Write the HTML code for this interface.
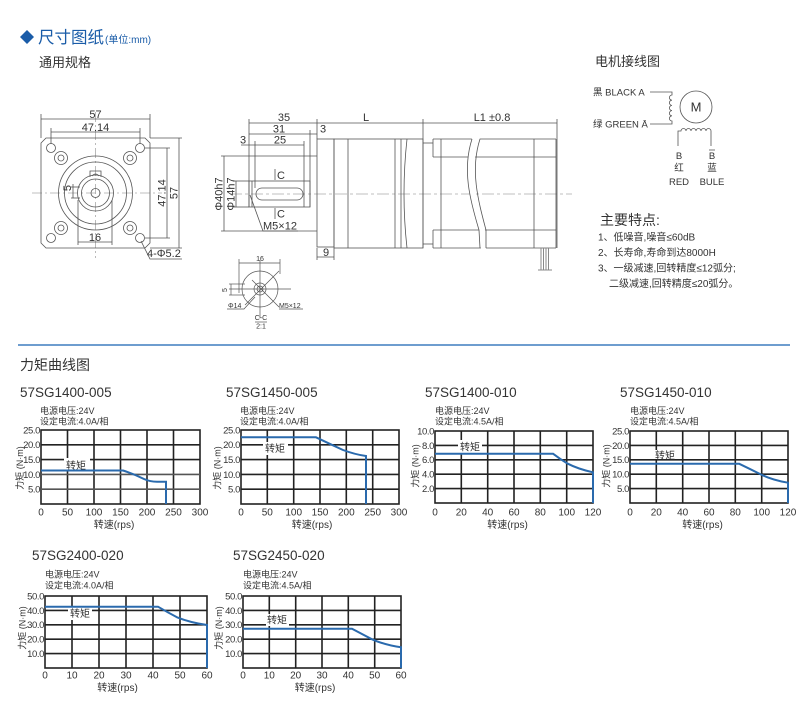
<!DOCTYPE html>
<html><head><meta charset="utf-8"><style>
html,body{margin:0;padding:0;background:#fff;}
svg{display:block;}
text{font-family:"Liberation Sans","Noto Sans CJK SC",sans-serif;fill:#333;}
.d{font-size:11px;fill:#333;}
.s{font-size:7px;fill:#333;}
.t{font-size:13.5px;fill:#333;}
.i{font-size:9px;fill:#333;}
.y{font-size:9.5px;text-anchor:end;fill:#333;letter-spacing:-0.4px;}
.x{font-size:10px;text-anchor:middle;fill:#333;}
.a{font-size:9px;text-anchor:middle;fill:#333;}
.m{text-anchor:middle;}
</style></head><body>
<svg width="800" height="701" viewBox="0 0 800 701" xmlns="http://www.w3.org/2000/svg">
<rect width="800" height="701" fill="#fff"/>

<!-- Header -->
<polygon points="27,30 34,37 27,44 20,37" fill="#1a5ca8"/>
<text x="38" y="43" style="font-size:16.5px;fill:#1a5ca8">尺寸图纸</text>
<text x="105" y="43" style="font-size:10px;fill:#1a5ca8">(单位:mm)</text>
<text x="39" y="67" style="font-size:13px;fill:#333">通用规格</text>

<!-- Front view -->
<g stroke="#aaa" stroke-width="0.8" stroke-dasharray="10,3,2,3" fill="none">
<line x1="32" y1="193" x2="162" y2="193"/>
<line x1="95.5" y1="112" x2="95.5" y2="258"/>
</g>
<g stroke="#555" stroke-width="0.8" fill="none">
<path d="M46,138 L145,138 L150,143 L150,243 L145,248 L46,248 L41,243 L41,143 Z"/>
<circle cx="51" cy="148" r="4.5"/><circle cx="140" cy="148" r="4.5"/>
<circle cx="51" cy="238" r="4.5"/><circle cx="140" cy="238" r="4.5"/>
<circle cx="61" cy="158" r="6.5"/><circle cx="61" cy="158" r="3"/>
<circle cx="130" cy="158" r="6.5"/><circle cx="130" cy="158" r="3"/>
<circle cx="61" cy="228" r="6.5"/><circle cx="61" cy="228" r="3"/>
<circle cx="130" cy="228" r="6.5"/><circle cx="130" cy="228" r="3"/>
<circle cx="95.5" cy="193" r="37"/>
<circle cx="95.5" cy="193" r="31"/>
<circle cx="95.5" cy="193" r="18"/>
<circle cx="95.5" cy="193" r="14"/>
<circle cx="95.5" cy="193" r="4.5"/>
<path d="M90,177 L90,171 L101,171 L101,177"/>
<path d="M92,176 Q95.5,172 99,176"/>
<line x1="41" y1="119" x2="150" y2="119"/>
<line x1="41" y1="114" x2="41" y2="138"/><line x1="150" y1="114" x2="150" y2="138"/>
<line x1="51" y1="132" x2="140" y2="132"/>
<line x1="51" y1="128" x2="51" y2="144"/><line x1="140" y1="128" x2="140" y2="144"/>
<line x1="167" y1="148" x2="167" y2="238"/>
<line x1="145" y1="148" x2="170" y2="148"/><line x1="145" y1="238" x2="170" y2="238"/>
<line x1="179" y1="138" x2="179" y2="248"/>
<line x1="150" y1="138" x2="182" y2="138"/><line x1="150" y1="248" x2="182" y2="248"/>
<line x1="78" y1="200" x2="78" y2="245"/><line x1="112" y1="200" x2="112" y2="245"/>
<line x1="78" y1="242" x2="112" y2="242"/>
<line x1="73" y1="184" x2="73" y2="198"/>
<line x1="71" y1="187" x2="80" y2="187"/><line x1="71" y1="198" x2="80" y2="198"/>
<path d="M141,241 L150,259 L182,259"/>
</g>
<text class="d m" x="95.5" y="118">57</text>
<text class="d m" x="95.5" y="131">47.14</text>
<text class="d m" transform="translate(165.5,193) rotate(-90)">47.14</text>
<text class="d m" transform="translate(177.5,193) rotate(-90)">57</text>
<text class="d m" x="95" y="241">16</text>
<text class="d m" transform="translate(71,188) rotate(-90)">5</text>
<text class="d" x="147" y="257">4-Φ5.2</text>

<!-- Side view -->
<line x1="230" y1="194" x2="572" y2="194" stroke="#aaa" stroke-width="0.8" stroke-dasharray="12,3,3,3"/>
<g stroke="#555" stroke-width="0.8" fill="none">
<line x1="249" y1="123" x2="557" y2="123"/>
<line x1="249" y1="119" x2="249" y2="207"/>
<line x1="317" y1="119" x2="317" y2="139"/>
<line x1="423" y1="119" x2="423" y2="248"/>
<line x1="557" y1="119" x2="557" y2="248"/>
<line x1="249" y1="134" x2="317" y2="134"/>
<line x1="241" y1="145" x2="304" y2="145"/>
<line x1="255" y1="141" x2="255" y2="188"/>
<line x1="304" y1="141" x2="304" y2="207"/>
<line x1="310" y1="130" x2="310" y2="207"/>
<line x1="221" y1="156" x2="317" y2="156"/>
<line x1="221" y1="231" x2="317" y2="231"/>
<line x1="224" y1="156" x2="224" y2="231"/>
<line x1="236" y1="181" x2="236" y2="207"/>
<line x1="233" y1="181" x2="249" y2="181"/>
<line x1="233" y1="207" x2="249" y2="207"/>
<rect x="249" y="181" width="61" height="26"/>
<line x1="252" y1="181" x2="252" y2="207"/>
<rect x="256" y="188" width="47" height="12" rx="6"/>
<line x1="275" y1="169" x2="275" y2="180"/>
<line x1="275" y1="208" x2="275" y2="219"/>
<path d="M250,195 L263,231 L298,231"/>
<rect x="317" y="139" width="17" height="108"/>
<rect x="334" y="139" width="89" height="109"/>
<line x1="348" y1="139" x2="348" y2="248"/>
<line x1="395" y1="139" x2="395" y2="248"/>
<line x1="401" y1="139" x2="401" y2="248"/>
<path d="M407,139 Q401,194 407,248"/>
<line x1="317" y1="248" x2="317" y2="260"/><line x1="334" y1="248" x2="334" y2="260"/>
<line x1="317" y1="257" x2="334" y2="257"/>
<line x1="433" y1="139" x2="556" y2="139"/>
<line x1="433" y1="248" x2="556" y2="248"/>
<line x1="556" y1="139" x2="556" y2="248"/>
<line x1="441" y1="139" x2="441" y2="248"/>
<line x1="534" y1="139" x2="534" y2="248"/>
<line x1="433" y1="139" x2="433" y2="157"/>
<line x1="433" y1="230" x2="433" y2="248"/>
<line x1="433" y1="157" x2="556" y2="157"/>
<line x1="433" y1="230" x2="556" y2="230"/>
<line x1="423" y1="143" x2="433" y2="143"/>
<line x1="423" y1="244" x2="433" y2="244"/>
</g>
<path d="M472,138 C462,170 470,200 479,230 L481,249 L486,249 L485,230 C476,200 468,170 480,138 Z" fill="#fff" stroke="none"/>
<g stroke="#555" stroke-width="0.8" fill="none">
<path d="M472,139 C462,170 470,200 479,230 L480,248"/>
<path d="M480,139 C470,170 478,200 486,230 L486,248"/>
</g>
<g stroke="#888" stroke-width="1">
<line x1="541" y1="248" x2="541" y2="270"/>
<line x1="543.5" y1="248" x2="543.5" y2="270"/>
<line x1="546" y1="248" x2="546" y2="270"/>
<line x1="548.5" y1="248" x2="548.5" y2="270"/>
<line x1="538" y1="270" x2="552" y2="270"/>
</g>
<text class="d m" x="284" y="121">35</text>
<text class="d m" x="366" y="121">L</text>
<text class="d m" x="492" y="121">L1  ±0.8</text>
<text class="d m" x="279" y="132.5">31</text>
<text class="d m" x="323" y="132.5">3</text>
<text class="d m" x="280" y="143.5">25</text>
<text class="d m" x="243" y="143.5">3</text>
<text class="d m" transform="translate(222.5,194) rotate(-90)">Φ40h7</text>
<text class="d m" transform="translate(234.5,194) rotate(-90)">Φ14h7</text>
<text class="d" x="277" y="179">C</text>
<text class="d" x="277" y="217.5">C</text>
<text class="d" x="263" y="229.5">M5×12</text>
<text class="d m" x="326" y="256">9</text>

<!-- C-C section -->
<g stroke="#555" stroke-width="0.7" fill="none">
<line x1="239" y1="263" x2="280" y2="263"/>
<line x1="239" y1="259" x2="239" y2="293"/>
<line x1="280" y1="259" x2="280" y2="274"/>
<circle cx="260" cy="289" r="18"/>
<circle cx="260" cy="289" r="6"/>
<circle cx="260" cy="289" r="3"/>
<line x1="260" y1="260" x2="260" y2="318"/>
<line x1="229" y1="289" x2="291" y2="289"/>
<line x1="279" y1="271" x2="245" y2="305"/>
<line x1="252" y1="280" x2="279" y2="307"/>
<line x1="231" y1="284" x2="231" y2="295"/>
<line x1="229" y1="284" x2="245" y2="284"/>
<line x1="229" y1="295" x2="245" y2="295"/>
<path d="M255,297 L244,309 L227,309"/>
<path d="M279,309 L303,309"/>
<line x1="255" y1="322" x2="267" y2="322"/>
</g>
<text class="s m" x="260" y="261">16</text>
<text class="s m" transform="translate(227,290) rotate(-90)">5</text>
<text class="s" x="228" y="308">Φ14</text>
<text class="s" x="279" y="308">M5×12</text>
<text class="s m" x="261" y="320">C-C</text>
<text class="s m" x="261" y="328.5">2:1</text>

<!-- Wiring -->
<text x="595" y="66" style="font-size:13px;fill:#333">电机接线图</text>
<text x="593" y="95.5" style="font-size:9.5px">黑  BLACK A</text>
<text x="593" y="127.5" style="font-size:9.5px">绿 GREEN  Ā</text>
<g stroke="#555" stroke-width="0.8" fill="none">
<path d="M650,92 L672,92 L672,95 a2.6,2.6 0 0 0 0,5.2 a2.6,2.6 0 0 0 0,5.2 a2.6,2.6 0 0 0 0,5.2 a2.6,2.6 0 0 0 0,5.2 a2.6,2.6 0 0 0 0,5.2 L672,124 L650,124"/>
<circle cx="696" cy="107" r="16"/>
<path d="M678,146 L678,131 L681,131 a2.5,2.5 0 0 1 5,0 a2.5,2.5 0 0 1 5,0 a2.5,2.5 0 0 1 5,0 a2.5,2.5 0 0 1 5,0 a2.5,2.5 0 0 1 5,0 a2.5,2.5 0 0 1 5,0 L711,131 L711,146"/>
<line x1="709" y1="150" x2="715" y2="150"/>
</g>
<text class="m" x="696" y="111.5" style="font-size:13px">M</text>
<text class="m" x="679" y="159" style="font-size:9.5px">B</text>
<text class="m" x="679" y="171" style="font-size:9.5px">红</text>
<text class="m" x="679" y="185" style="font-size:9.5px">RED</text>
<text class="m" x="712" y="159" style="font-size:9.5px">B</text>
<text class="m" x="712" y="171" style="font-size:9.5px">蓝</text>
<text class="m" x="712" y="185" style="font-size:9.5px">BULE</text>

<text x="600" y="225" style="font-size:14px">主要特点:</text>
<text x="598" y="240.5" style="font-size:10px">1、低噪音,噪音≤60dB</text>
<text x="598" y="256" style="font-size:10px">2、长寿命,寿命到达8000H</text>
<text x="598" y="271.5" style="font-size:10px">3、一级减速,回转精度≤12弧分;</text>
<text x="609" y="287" style="font-size:10px">二级减速,回转精度≤20弧分。</text>

<!-- Section divider -->
<line x1="18" y1="345" x2="790" y2="345" stroke="#3f7dbf" stroke-width="1.5"/>
<text x="20" y="370" style="font-size:14px">力矩曲线图</text>

<!-- Chart 1 -->
<text class="t" x="20" y="397">57SG1400-005</text>
<text class="i" x="40" y="414">电源电压:24V</text>
<text class="i" x="40" y="424.5">设定电流:4.0A/相</text>
<g stroke="#222" stroke-width="1.6" fill="none">
<rect x="41" y="430" width="159" height="74"/>
<line x1="67.5" y1="430" x2="67.5" y2="504"/><line x1="94" y1="430" x2="94" y2="504"/><line x1="120.5" y1="430" x2="120.5" y2="504"/><line x1="147" y1="430" x2="147" y2="504"/><line x1="173.5" y1="430" x2="173.5" y2="504"/>
<line x1="41" y1="444.8" x2="200" y2="444.8"/><line x1="41" y1="459.6" x2="200" y2="459.6"/><line x1="41" y1="474.4" x2="200" y2="474.4" stroke="#555"/><line x1="41" y1="489.2" x2="200" y2="489.2" stroke="#555"/>
</g>
<rect x="64" y="458" width="26" height="13" fill="#fff"/>
<text x="66" y="469" style="font-size:10px">转矩</text>
<path d="M41,470.5 L123,470.5 Q134,474 144,479 Q150,481.7 157,481.7 L166,481.7 L166,504" stroke="#2a6aad" stroke-width="2" fill="none"/>
<text class="y" x="40" y="433.4">25.0</text><text class="y" x="40" y="448.2">20.0</text><text class="y" x="40" y="463">15.0</text><text class="y" x="40" y="477.8">10.0</text><text class="y" x="40" y="492.6">5.0</text>
<text class="x" x="41" y="515.5">0</text><text class="x" x="67.5" y="515.5">50</text><text class="x" x="94" y="515.5">100</text><text class="x" x="120.5" y="515.5">150</text><text class="x" x="147" y="515.5">200</text><text class="x" x="173.5" y="515.5">250</text><text class="x" x="200" y="515.5">300</text>
<text class="x" x="114" y="528">转速(rps)</text>
<text class="a" transform="translate(23,468) rotate(-90)">力矩 (N·m)</text>

<!-- Chart 2 -->
<text class="t" x="226" y="397">57SG1450-005</text>
<text class="i" x="240" y="414">电源电压:24V</text>
<text class="i" x="240" y="424.5">设定电流:4.0A/相</text>
<g stroke="#222" stroke-width="1.6" fill="none">
<rect x="241" y="430" width="158" height="74"/>
<line x1="267.3" y1="430" x2="267.3" y2="504"/><line x1="293.7" y1="430" x2="293.7" y2="504"/><line x1="320" y1="430" x2="320" y2="504"/><line x1="346.3" y1="430" x2="346.3" y2="504"/><line x1="372.7" y1="430" x2="372.7" y2="504"/>
<line x1="241" y1="444.8" x2="399" y2="444.8"/><line x1="241" y1="459.6" x2="399" y2="459.6"/><line x1="241" y1="474.4" x2="399" y2="474.4"/><line x1="241" y1="489.2" x2="399" y2="489.2"/>
</g>
<rect x="263" y="442" width="25" height="13" fill="#fff"/>
<text x="265" y="452" style="font-size:10px">转矩</text>
<path d="M241,437.3 L316,437.3 Q330,444 343,450 Q355,454.5 366,456 L366,504" stroke="#2a6aad" stroke-width="2" fill="none"/>
<text class="y" x="240" y="433.4">25.0</text><text class="y" x="240" y="448.2">20.0</text><text class="y" x="240" y="463">15.0</text><text class="y" x="240" y="477.8">10.0</text><text class="y" x="240" y="492.6">5.0</text>
<text class="x" x="241" y="515.5">0</text><text class="x" x="267.3" y="515.5">50</text><text class="x" x="293.7" y="515.5">100</text><text class="x" x="320" y="515.5">150</text><text class="x" x="346.3" y="515.5">200</text><text class="x" x="372.7" y="515.5">250</text><text class="x" x="399" y="515.5">300</text>
<text class="x" x="312" y="528">转速(rps)</text>
<text class="a" transform="translate(220.5,468) rotate(-90)">力矩 (N·m)</text>

<!-- Chart 3 -->
<text class="t" x="425" y="397">57SG1400-010</text>
<text class="i" x="435" y="414">电源电压:24V</text>
<text class="i" x="435" y="424.5">设定电流:4.5A/相</text>
<g stroke="#222" stroke-width="1.6" fill="none">
<rect x="435" y="431" width="158" height="72"/>
<line x1="461.3" y1="431" x2="461.3" y2="503"/><line x1="487.7" y1="431" x2="487.7" y2="503"/><line x1="514" y1="431" x2="514" y2="503"/><line x1="540.3" y1="431" x2="540.3" y2="503"/><line x1="566.7" y1="431" x2="566.7" y2="503"/>
<line x1="435" y1="445.4" x2="593" y2="445.4"/><line x1="435" y1="459.8" x2="593" y2="459.8"/><line x1="435" y1="474.2" x2="593" y2="474.2"/><line x1="435" y1="488.6" x2="593" y2="488.6"/>
</g>
<rect x="458" y="440" width="24" height="13" fill="#fff"/>
<text x="460" y="450.3" style="font-size:10px">转矩</text>
<path d="M435,453.7 L553,453.7 Q560,459 567,463.3 Q578,469 593,472.3 L593,503" stroke="#2a6aad" stroke-width="2" fill="none"/>
<text class="y" x="434" y="434.4">10.0</text><text class="y" x="434" y="448.8">8.0</text><text class="y" x="434" y="463.2">6.0</text><text class="y" x="434" y="477.6">4.0</text><text class="y" x="434" y="492">2.0</text>
<text class="x" x="435" y="515.5">0</text><text class="x" x="461.3" y="515.5">20</text><text class="x" x="487.7" y="515.5">40</text><text class="x" x="514" y="515.5">60</text><text class="x" x="540.3" y="515.5">80</text><text class="x" x="566.7" y="515.5">100</text><text class="x" x="593" y="515.5">120</text>
<text class="x" x="507.5" y="528">转速(rps)</text>
<text class="a" transform="translate(418.5,466) rotate(-90)">力矩 (N·m)</text>

<!-- Chart 4 -->
<text class="t" x="620" y="397">57SG1450-010</text>
<text class="i" x="630" y="414">电源电压:24V</text>
<text class="i" x="630" y="424.5">设定电流:4.5A/相</text>
<g stroke="#222" stroke-width="1.6" fill="none">
<rect x="630" y="431" width="158" height="72"/>
<line x1="656.3" y1="431" x2="656.3" y2="503"/><line x1="682.7" y1="431" x2="682.7" y2="503"/><line x1="709" y1="431" x2="709" y2="503"/><line x1="735.3" y1="431" x2="735.3" y2="503"/><line x1="761.7" y1="431" x2="761.7" y2="503"/>
<line x1="630" y1="445.4" x2="788" y2="445.4"/><line x1="630" y1="459.8" x2="788" y2="459.8"/><line x1="630" y1="474.2" x2="788" y2="474.2"/><line x1="630" y1="488.6" x2="788" y2="488.6"/>
</g>
<rect x="654" y="450" width="22" height="9" fill="#fff"/>
<text x="655" y="459" style="font-size:10px">转矩</text>
<path d="M630,463.7 L739,463.7 Q750,469 760,474 Q772,480 788,482.7 L788,503" stroke="#2a6aad" stroke-width="2" fill="none"/>
<text class="y" x="629" y="434.4">25.0</text><text class="y" x="629" y="448.8">20.0</text><text class="y" x="629" y="463.2">15.0</text><text class="y" x="629" y="477.6">10.0</text><text class="y" x="629" y="492">5.0</text>
<text class="x" x="630" y="515.5">0</text><text class="x" x="656.3" y="515.5">20</text><text class="x" x="682.7" y="515.5">40</text><text class="x" x="709" y="515.5">60</text><text class="x" x="735.3" y="515.5">80</text><text class="x" x="761.7" y="515.5">100</text><text class="x" x="788" y="515.5">120</text>
<text class="x" x="702.5" y="528">转速(rps)</text>
<text class="a" transform="translate(609.5,466) rotate(-90)">力矩 (N·m)</text>

<!-- Chart 5 -->
<text class="t" x="32" y="560">57SG2400-020</text>
<text class="i" x="45" y="577.5">电源电压:24V</text>
<text class="i" x="45" y="588.5">设定电流:4.0A/相</text>
<g stroke="#222" stroke-width="1.6" fill="none">
<rect x="45" y="596" width="162" height="72"/>
<line x1="72" y1="596" x2="72" y2="668"/><line x1="99" y1="596" x2="99" y2="668"/><line x1="126" y1="596" x2="126" y2="668"/><line x1="153" y1="596" x2="153" y2="668"/><line x1="180" y1="596" x2="180" y2="668"/>
<line x1="45" y1="610.4" x2="207" y2="610.4"/><line x1="45" y1="624.8" x2="207" y2="624.8"/><line x1="45" y1="639.2" x2="207" y2="639.2"/><line x1="45" y1="653.6" x2="207" y2="653.6"/>
</g>
<rect x="68" y="607" width="24" height="13" fill="#fff"/>
<text x="70" y="617" style="font-size:10px">转矩</text>
<path d="M45,606.7 L158,606.7 Q167,612 177,617.3 Q190,622.5 207,625 L207,668" stroke="#2a6aad" stroke-width="2" fill="none"/>
<text class="y" x="44" y="599.4">50.0</text><text class="y" x="44" y="613.8">40.0</text><text class="y" x="44" y="628.2">30.0</text><text class="y" x="44" y="642.6">20.0</text><text class="y" x="44" y="657">10.0</text>
<text class="x" x="45" y="678.5">0</text><text class="x" x="72" y="678.5">10</text><text class="x" x="99" y="678.5">20</text><text class="x" x="126" y="678.5">30</text><text class="x" x="153" y="678.5">40</text><text class="x" x="180" y="678.5">50</text><text class="x" x="207" y="678.5">60</text>
<text class="x" x="117.5" y="691">转速(rps)</text>
<text class="a" transform="translate(25.5,628) rotate(-90)">力矩 (N·m)</text>

<!-- Chart 6 -->
<text class="t" x="233" y="560">57SG2450-020</text>
<text class="i" x="243" y="577.5">电源电压:24V</text>
<text class="i" x="243" y="588.5">设定电流:4.5A/相</text>
<g stroke="#222" stroke-width="1.6" fill="none">
<rect x="243" y="596" width="158" height="72"/>
<line x1="269.3" y1="596" x2="269.3" y2="668"/><line x1="295.7" y1="596" x2="295.7" y2="668"/><line x1="322" y1="596" x2="322" y2="668"/><line x1="348.3" y1="596" x2="348.3" y2="668"/><line x1="374.7" y1="596" x2="374.7" y2="668"/>
<line x1="243" y1="610.4" x2="401" y2="610.4"/><line x1="243" y1="624.8" x2="401" y2="624.8"/><line x1="243" y1="639.2" x2="401" y2="639.2"/><line x1="243" y1="653.6" x2="401" y2="653.6"/>
</g>
<rect x="266" y="614" width="23" height="12" fill="#fff"/>
<text x="267" y="623.6" style="font-size:10px">转矩</text>
<path d="M243,628.7 L352,628.7 Q362,634 372,639.3 Q385,645 401,647.3 L401,668" stroke="#2a6aad" stroke-width="2" fill="none"/>
<text class="y" x="242" y="599.4">50.0</text><text class="y" x="242" y="613.8">40.0</text><text class="y" x="242" y="628.2">30.0</text><text class="y" x="242" y="642.6">20.0</text><text class="y" x="242" y="657">10.0</text>
<text class="x" x="243" y="678.5">0</text><text class="x" x="269.3" y="678.5">10</text><text class="x" x="295.7" y="678.5">20</text><text class="x" x="322" y="678.5">30</text><text class="x" x="348.3" y="678.5">40</text><text class="x" x="374.7" y="678.5">50</text><text class="x" x="401" y="678.5">60</text>
<text class="x" x="315" y="691">转速(rps)</text>
<text class="a" transform="translate(222,628) rotate(-90)">力矩 (N·m)</text>
</svg>
</body></html>
